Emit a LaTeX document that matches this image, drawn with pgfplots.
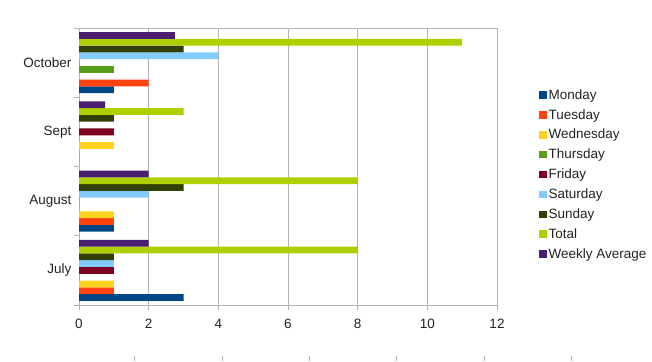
\documentclass[border=0pt]{standalone}
\usepackage{pgfplots}
\pgfplotsset{compat=1.18}
\usepackage{fontspec}
\setmainfont{Liberation Sans}
\definecolor{cMon}{HTML}{004586}
\definecolor{cTue}{HTML}{FF420E}
\definecolor{cWed}{HTML}{FFD320}
\definecolor{cThu}{HTML}{579D1C}
\definecolor{cFri}{HTML}{7E0021}
\definecolor{cSat}{HTML}{83CAFF}
\definecolor{cSun}{HTML}{314004}
\definecolor{cTot}{HTML}{AECF00}
\definecolor{cAvg}{HTML}{4B1F6F}
\definecolor{gridgray}{HTML}{B3B3B3}
\definecolor{txt}{HTML}{222222}
\begin{document}
\begin{tikzpicture}
\path[use as bounding box] (0,0) rectangle (652pt,361pt);
\begin{axis}[
  at={(79pt,56pt)}, anchor=south west,
  scale only axis, width=418pt, height=277pt,
  xbar=0pt, bar width=6.8pt,
  xmin=0, xmax=12, xtick={0,2,...,12},
  ymin=-0.5, ymax=3.5,
  ytick={-0.5,0.5,1.5,2.5,3.5}, yticklabels={,,,,},
  extra y ticks={0,1,2,3},
  extra y tick labels={July,August,Sept,October},
  extra y tick style={major tick length=0pt, yticklabel style={xshift=-4pt}},
  major tick length=5pt,
  tick align=outside,
  xtick pos=bottom, ytick pos=left,
  xmajorgrids, grid style={gridgray, line width=0.8pt},
  axis line style={gridgray, line width=0.8pt},
  tick style={gridgray, line width=0.8pt},
  font=\fontsize{13.5}{16}\selectfont,
  /pgf/number format/assume math mode=true,
  ticklabel style={text=txt},
  xticklabel style={yshift=-6pt},
  legend style={at={(1.1,0.471)}, anchor=west, draw=none, fill=none,
    font=\fontsize{13.5}{16}\selectfont, text=txt, row sep=4.6pt, inner sep=0pt,
    /tikz/every even column/.append style={column sep=3pt}},
  legend cell align=left,
  legend image code/.code={\fill[#1] (0pt,-3.8pt) rectangle (7.5pt,3.8pt);},
  every axis plot/.append style={draw=none},
]
\addplot[fill=cMon] coordinates {(3,0) (1,1) (0,2) (1,3)};
\addlegendentry{Monday}
\addplot[fill=cTue] coordinates {(1,0) (1,1) (0,2) (2,3)};
\addlegendentry{Tuesday}
\addplot[fill=cWed] coordinates {(1,0) (1,1) (1,2) (0,3)};
\addlegendentry{Wednesday}
\addplot[fill=cThu] coordinates {(0,0) (0,1) (0,2) (1,3)};
\addlegendentry{Thursday}
\addplot[fill=cFri] coordinates {(1,0) (0,1) (1,2) (0,3)};
\addlegendentry{Friday}
\addplot[fill=cSat] coordinates {(1,0) (2,1) (0,2) (4,3)};
\addlegendentry{Saturday}
\addplot[fill=cSun] coordinates {(1,0) (3,1) (1,2) (3,3)};
\addlegendentry{Sunday}
\addplot[fill=cTot] coordinates {(8,0) (8,1) (3,2) (11,3)};
\addlegendentry{Total}
\addplot[fill=cAvg] coordinates {(2,0) (2,1) (0.75,2) (2.75,3)};
\addlegendentry{Weekly Average}
\end{axis}
\foreach \x in {134.6,222,309,396.5,484,571}
  \draw[gridgray, line width=0.8pt] (\x pt,0pt) -- (\x pt,5pt);
\end{tikzpicture}
\end{document}
